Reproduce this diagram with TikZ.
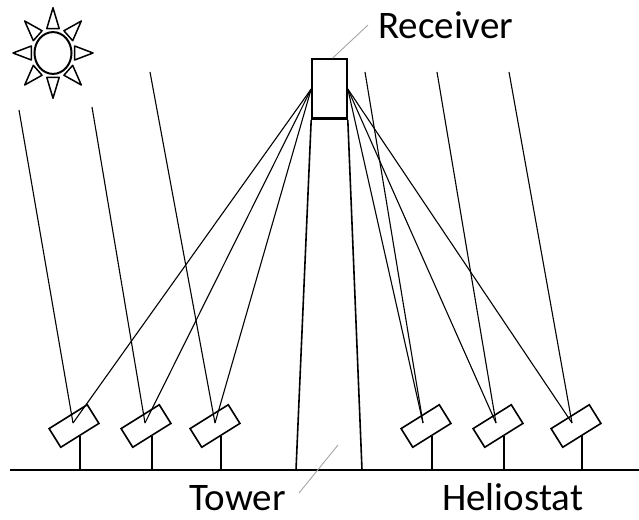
\documentclass[tikz,border=0pt]{standalone}
\usepackage{fontspec}
\setmainfont{Carlito}
\usetikzlibrary{calc}

\tikzset{
  helio/.style={draw,line width=1.6pt,minimum width=45pt,minimum height=22pt,inner sep=0pt,rotate=32},
  ray/.style={line width=1.1pt},
  post/.style={line width=1.6pt},
  leader/.style={gray!70,line width=0.9pt},
  sunray/.style={line width=1.5pt,line join=round},
  tag/.style={font=\fontsize{39}{40}\selectfont,inner sep=0pt,anchor=base west},
}

\begin{document}
\begin{tikzpicture}[x=1pt,y=-1pt]
  \useasboundingbox (0,0) rectangle (639,519);

  % sun
  \begin{scope}[shift={(53,53)},yscale=1.13]
    \draw[line width=2pt] (0,0) circle[radius=18.5pt];
    \foreach \a in {0,45,...,315}
      \draw[sunray] (\a-16:22.5) -- (\a:40) -- (\a+16:22.5) -- cycle;
  \end{scope}

  % ground, tower and receiver
  \coordinate (g0) at (10,470);
  \coordinate (g1) at (639,470);
  \draw[line width=2.2pt] (g0) -- (g1);
  \node[draw,line width=1.6pt,minimum width=35pt,minimum height=60pt,inner sep=0pt] (rec) at (329.5,89) {};
  \draw[line width=1.2pt] ([yshift=2pt]rec.south west) -- ([yshift=2pt]rec.south east);
  \coordinate (tl) at (296,470);
  \coordinate (tr) at (362,470);
  \draw[post] (rec.south west) -- (tl);
  \draw[post] (rec.south east) -- (tr);

  % heliostats with incoming rays
  \foreach \i/\cx/\hx/\sx/\sy in {1/74/73/19/110, 2/146/145/92/107, 3/215/215/150/72,
                                  4/426/423/365/72, 5/498/496/437/72, 6/576/572/509/72}{
    \node[helio] (h\i) at (\cx,426) {};
    \coordinate (p\i) at (\hx,423);
    \coordinate (s\i) at (\sx,\sy);
    \draw[post] (h\i.south) -- (h\i.south |- g0);
    \draw[ray] (s\i) -- (p\i);
  }

  % reflected rays
  \foreach \i in {1,2,3}
    \draw[ray] (p\i) -- (rec.west);
  \foreach \i in {4,5,6}
    \draw[ray] (p\i) -- (rec.east);

  % labels
  \node[tag] (receiver) at (378,38) {Receiver};
  \node[tag] (tower) at (189,510) {Tower};
  \node[tag] (heliostat) at (442,510) {Heliostat};
  \coordinate (rtip) at (368,25);
  \coordinate (ttip) at (299,493);
  \coordinate (tmid) at (338,445);
  \draw[leader] ([xshift=3pt]rec.north) -- (rtip);
  \draw[leader] (tmid) -- (ttip);
\end{tikzpicture}
\end{document}
